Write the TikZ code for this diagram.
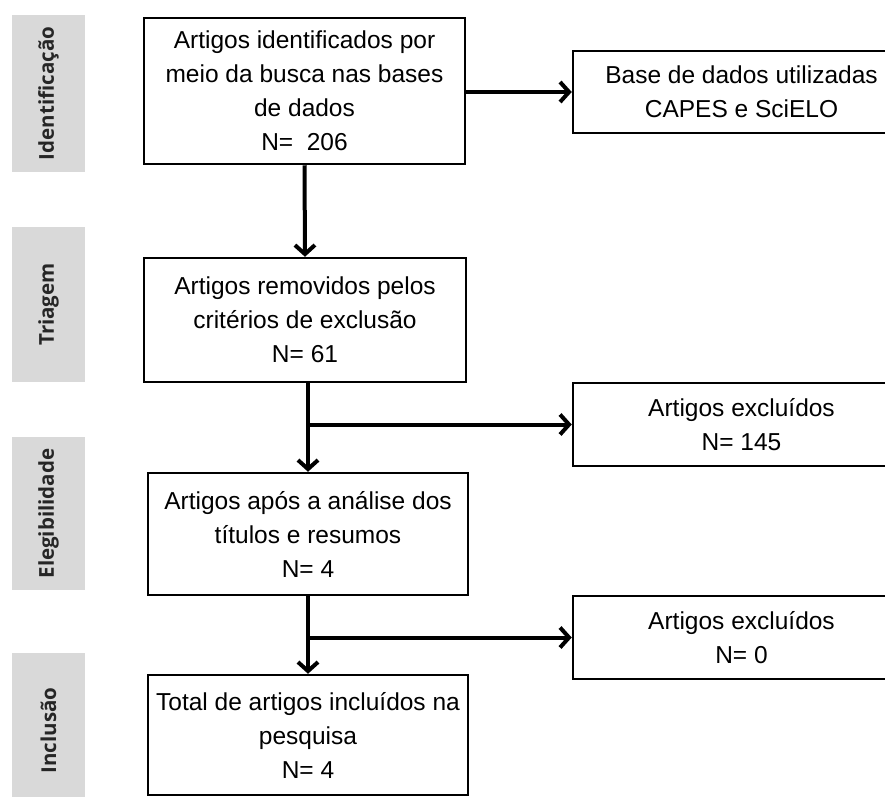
\documentclass[tikz,border=0pt]{standalone}
\usepackage{fontspec}
\setmainfont{Liberation Sans}
\newfontfamily\phasefont{Open Sans}
\usetikzlibrary{arrows.meta}

\tikzset{
  box/.style={draw, line width=2.5pt, align=center, inner sep=0pt,
    font=\fontsize{24.5}{34}\selectfont},
  phase/.style={fill=gray!30, rotate=90, minimum height=73pt, inner sep=0pt,
    text=black!85, font=\phasefont\bfseries\fontsize{20.5}{24}\selectfont},
  arrow/.style={line width=4pt, -{Straight Barb[length=9pt,width=20pt]}}
}

\begin{document}
\begin{tikzpicture}[x=1pt, y=-1pt]

    % Fix the page to the size of the reference
    \useasboundingbox (0, 0) rectangle (885, 796);
    \clip (0, 0) rectangle (885, 796);

    % Grey phase labels on the left
    \node[phase, minimum width=157pt] (ident) at (48.5, 93.5) {Identificação};
    \node[phase, minimum width=155pt] (triag) at (48.5, 304.5) {Triagem};
    \node[phase, minimum width=153pt] (eleg) at (48.5, 513.5) {Elegibilidade};
    \node[phase, minimum width=155pt] (incl) at (48.5, 730.5) {Inclusão};

    % Main column of boxes
    \node[box, minimum width=321pt, minimum height=146pt] (found) at (304.5, 91)
      {Artigos identificados por\\meio da busca nas bases\\de dados\\N=\ \ 206};
    \node[box, minimum width=322pt, minimum height=124pt] (removed) at (305, 320)
      {Artigos removidos pelos\\critérios de exclusão\\N= 61};
    \node[box, minimum width=320pt, minimum height=122pt] (screened) at (308, 534)
      {Artigos após a análise dos\\títulos e resumos\\N= 4};
    \node[box, minimum width=320pt, minimum height=120pt] (included) at (308, 735)
      {Total de artigos incluídos na\\pesquisa\\N= 4};

    % Side boxes on the right (cut by the page edge)
    \node[box, minimum width=337pt, minimum height=82pt] (bases) at (741.5, 92)
      {Base de dados utilizadas\\CAPES e SciELO};
    \node[box, minimum width=337pt, minimum height=83pt] (excl1) at (741.5, 424.5)
      {Artigos excluídos\\N= 145};
    \node[box, minimum width=337pt, minimum height=83pt] (excl2) at (741.5, 637.5)
      {Artigos excluídos\\N= 0};

    % Points where the side arrows leave the main line
    \coordinate (split1) at (screened.north |- excl1.west);
    \coordinate (split2) at (included.north |- excl2.west);

    % Arrows
    \draw[arrow] (found.east) -- (found.east |- bases.west) -- (bases.west);
    \draw[arrow] (found.south) -- (removed.north);
    \draw[arrow] (screened.north |- removed.south) -- (screened.north);
    \draw[arrow] (split1) -- (excl1.west);
    \draw[arrow] (screened.south) -- (included.north);
    \draw[arrow] (split2) -- (excl2.west);

\end{tikzpicture}
\end{document}
